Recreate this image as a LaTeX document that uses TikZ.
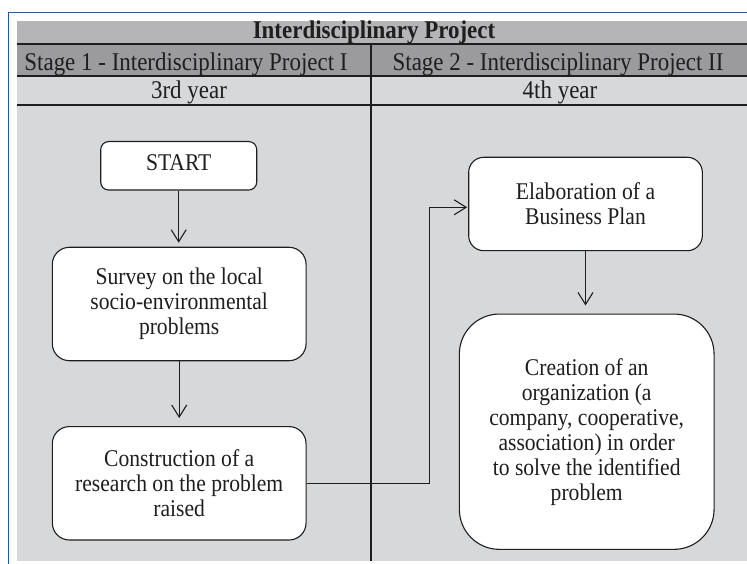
\documentclass[tikz,border=0pt]{standalone}
\usepackage{fontspec}
\setmainfont{Liberation Serif}[FakeStretch=0.9]
\usetikzlibrary{arrows.meta,calc}
\definecolor{rowA}{HTML}{B5B5B7}
\definecolor{rowB}{HTML}{9B9B9D}
\definecolor{rowC}{HTML}{D7D8DA}
\definecolor{bodyC}{HTML}{D7D8DA}
\definecolor{frameblue}{HTML}{2453C8}
\definecolor{ink}{HTML}{1E1E1E}
\begin{document}
\begin{tikzpicture}[x=1pt,y=-1pt,
  hdr/.style={font=\fontsize{25.5}{26}\selectfont, text=ink, inner sep=0pt, anchor=base},
  box/.style={draw=ink, line width=1.1pt, fill=white, align=center,
              font=\fontsize{24}{25}\selectfont, text=ink, inner sep=0pt},
  arr/.style={draw=ink, line width=1.1pt, -{Straight Barb[length=12pt,width=15pt]}},
  rule/.style={draw=ink, line width=1.2pt}]
\useasboundingbox (0,0) rectangle (747,564);
% blue frame
\draw[frameblue, line width=1pt] (8.7,564) -- (8.7,12.7) -- (747,12.7);
% table background
\fill[rowA] (16.7,21) rectangle (747,44);
\fill[rowB] (16.7,44) rectangle (747,76);
\fill[rowC] (16.7,76) rectangle (747,105);
\fill[bodyC] (16.7,105) rectangle (747,561);
\draw[rule] (16.7,44) -- (747,44);
\draw[rule] (16.7,76) -- (747,76);
\draw[rule] (16.7,105) -- (747,105);
\draw[rule] (371,44) -- (371,561);
% header texts
\node[hdr, font=\bfseries\fontsize{25.5}{26}\selectfont] (title) at (374,38.5) {Interdisciplinary Project};
\node[hdr] (stage1) at (186,71) {Stage 1 - Interdisciplinary Project I};
\node[hdr] (stage2) at (558,71) {Stage 2 - Interdisciplinary Project II};
\node[hdr] (year3) at (189,98.5) {3rd year};
\node[hdr] (year4) at (560,98.5) {4th year};
% boxes
\node[box, rounded corners=8pt, minimum width=156pt, minimum height=48.5pt, text depth=7pt] (start) at (178.7,165.8) {START};
\node[box, rounded corners=17pt, minimum width=253.7pt, minimum height=113.4pt] (survey) at (179.2,304) {Survey on the local\\socio-environmental\\problems};
\node[box, rounded corners=17pt, minimum width=253.7pt, minimum height=113.4pt] (constr) at (179.2,483.3) {Construction of a\\research on the problem\\raised};
\node[box, rounded corners=15pt, minimum width=233.6pt, minimum height=93.4pt] (elab) at (585.5,204) {Elaboration of a\\Business Plan};
\node[box, rounded corners=40pt, minimum width=254.7pt, minimum height=235.3pt] (create) at (586.7,431.7) {Creation of an\\organization (a\\company, cooperative,\\association) in order\\to solve the identified\\problem};
% connectors
\draw[arr, shorten >=4pt] (start.south) -- (start.south |- survey.north);
\draw[arr, shorten >=8pt] (survey.south) -- (survey.south |- constr.north);
\draw[arr, shorten >=8pt] (elab.south) -- (elab.south |- create.north);
\coordinate (elabin) at ($(elab.west)+(0,3.3)$);
\coordinate (jog) at (429.3,0);
\draw[arr, shorten >=1pt] (constr.east) -- (constr.east -| jog) -- (jog |- elabin) -- (elabin);
\end{tikzpicture}
\end{document}
